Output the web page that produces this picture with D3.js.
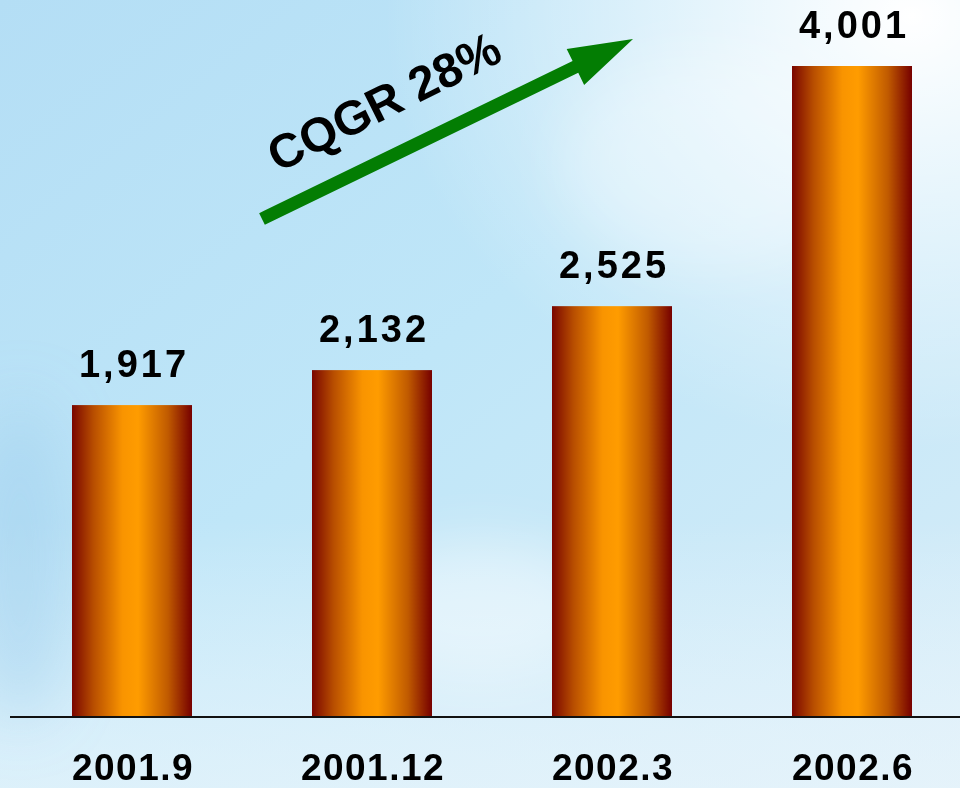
<!DOCTYPE html>
<html lang="en">
<head>
  <meta charset="UTF-8">
  <script src="https://cdn.jsdelivr.net/npm/d3@7"></script>
  <title>CQGR</title>
  <style>
    html, body { margin: 0; padding: 0; overflow: hidden; }
    svg { display: block; }
  </style>
</head>
<body>
  <svg width="960" height="788"></svg>
  <script>
    // data
    var categories = ["2001.9", "2001.12", "2002.3", "2002.6"];
    var values = [1917, 2132, 2525, 4001];
    var growthLabel = "CQGR 28%";

    var svg = d3.select("svg");
    var width = +svg.attr("width");
    var height = +svg.attr("height");
    var baseY = 717;

    var defs = svg.append("defs");

    // sky background
    var sky = defs.append("linearGradient").attr("id", "sky")
      .attr("x1", 0).attr("y1", 0).attr("x2", 1).attr("y2", 1);
    sky.append("stop").attr("offset", "0%").attr("stop-color", "#b4def5");
    sky.append("stop").attr("offset", "45%").attr("stop-color", "#bfe6f8");
    sky.append("stop").attr("offset", "100%").attr("stop-color", "#d6ecf8");

    var glow = defs.append("radialGradient").attr("id", "glow")
      .attr("cx", 0.95).attr("cy", 0.02).attr("r", 0.55);
    glow.append("stop").attr("offset", "0%").attr("stop-color", "#ffffff").attr("stop-opacity", 1);
    glow.append("stop").attr("offset", "100%").attr("stop-color", "#ffffff").attr("stop-opacity", 0);

    var lowClouds = defs.append("linearGradient").attr("id", "low")
      .attr("x1", 0).attr("y1", 0).attr("x2", 0).attr("y2", 1);
    lowClouds.append("stop").attr("offset", "0%").attr("stop-color", "#ffffff").attr("stop-opacity", 0);
    lowClouds.append("stop").attr("offset", "100%").attr("stop-color", "#eef7fc").attr("stop-opacity", 0.6);

    var blur = defs.append("filter").attr("id", "blur")
      .attr("x", "-50%").attr("y", "-50%").attr("width", "200%").attr("height", "200%");
    blur.append("feGaussianBlur").attr("stdDeviation", 30);

    svg.append("rect").attr("width", width).attr("height", height).attr("fill", "url(#sky)");
    svg.append("rect").attr("width", width).attr("height", height).attr("fill", "url(#glow)");
    svg.append("rect").attr("y", 520).attr("width", width).attr("height", height - 520).attr("fill", "url(#low)");

    var clouds = svg.append("g").attr("filter", "url(#blur)");
    clouds.append("ellipse").attr("cx", 20).attr("cy", 560).attr("rx", 50).attr("ry", 160)
      .attr("fill", "#9ccdeb").attr("opacity", 0.45);
    clouds.append("ellipse").attr("cx", 480).attr("cy", 610).attr("rx", 120).attr("ry", 70)
      .attr("fill", "#ffffff").attr("opacity", 0.4);
    clouds.append("ellipse").attr("cx", 720).attr("cy", 160).attr("rx", 160).attr("ry", 110)
      .attr("fill", "#ffffff").attr("opacity", 0.3);

    // bar gradient
    var barGrad = defs.append("linearGradient").attr("id", "bar")
      .attr("x1", 0).attr("y1", 0).attr("x2", 1).attr("y2", 0);
    barGrad.append("stop").attr("offset", "0%").attr("stop-color", "#7a0600");
    barGrad.append("stop").attr("offset", "18%").attr("stop-color", "#b84e00");
    barGrad.append("stop").attr("offset", "42%").attr("stop-color", "#f99400");
    barGrad.append("stop").attr("offset", "55%").attr("stop-color", "#ff9c00");
    barGrad.append("stop").attr("offset", "80%").attr("stop-color", "#c05a00");
    barGrad.append("stop").attr("offset", "100%").attr("stop-color", "#760000");

    // scales
    var x = d3.scaleBand()
      .domain(categories)
      .range([12, 972])
      .paddingInner(0.5)
      .paddingOuter(0.25);
    var y = d3.scaleLinear()
      .domain([0, d3.max(values)])
      .range([baseY, 66]);

    var data = categories.map(function(c, i){ return {cat: c, v: values[i]}; });

    // bars
    svg.selectAll(".bar").data(data).enter().append("rect")
      .attr("class", "bar")
      .attr("x", function(d){ return x(d.cat); })
      .attr("y", function(d){ return y(d.v); })
      .attr("width", x.bandwidth())
      .attr("height", function(d){ return baseY - y(d.v); })
      .attr("fill", "url(#bar)");

    // value labels
    svg.selectAll(".val").data(data).enter().append("text")
      .attr("class", "val")
      .attr("x", function(d){ return x(d.cat) + x.bandwidth() / 2 + 2; })
      .attr("y", function(d){ return y(d.v) - 28; })
      .attr("text-anchor", "middle")
      .style("font-family", "Liberation Sans, Arial, sans-serif")
      .style("font-weight", "bold")
      .style("font-size", "38px")
      .style("letter-spacing", "3px")
      .attr("fill", "#000")
      .text(function(d){ return d3.format(",")(d.v); });

    // baseline axis
    svg.append("line")
      .attr("x1", 10).attr("x2", width)
      .attr("y1", baseY).attr("y2", baseY)
      .attr("stroke", "#111").attr("stroke-width", 2);

    // category labels
    svg.selectAll(".cat").data(categories).enter().append("text")
      .attr("class", "cat")
      .attr("x", function(d){ return x(d) + x.bandwidth() / 2 + 1; })
      .attr("y", 780)
      .attr("text-anchor", "middle")
      .style("font-family", "Liberation Sans, Arial, sans-serif")
      .style("font-weight", "bold")
      .style("font-size", "37px")
      .style("letter-spacing", "1.5px")
      .attr("fill", "#000")
      .text(function(d){ return d; });

    // growth arrow
    var x0 = 262, y0 = 219, x1 = 633, y1 = 39;
    var ang = Math.atan2(y1 - y0, x1 - x0);
    var len = Math.hypot(x1 - x0, y1 - y0);
    var arrow = svg.append("g")
      .attr("transform", "translate(" + x0 + "," + y0 + ") rotate(" + (ang * 180 / Math.PI) + ")");
    var headLen = 64, headW = 40, shaftW = 13;
    arrow.append("path")
      .attr("d", "M0," + (-shaftW / 2) + "L" + (len - headLen) + "," + (-shaftW / 2) +
        "L" + (len - headLen) + "," + (-headW / 2) + "L" + len + ",0" +
        "L" + (len - headLen) + "," + (headW / 2) + "L" + (len - headLen) + "," + (shaftW / 2) +
        "L0," + (shaftW / 2) + "Z")
      .attr("fill", "#037d03");

    svg.append("text")
      .attr("transform", "translate(278,173) rotate(-26.5)")
      .style("font-family", "Liberation Sans, Arial, sans-serif")
      .style("font-weight", "bold")
      .style("font-size", "48px")
      .attr("fill", "#000")
      .text(growthLabel);
  </script>
</body>
</html>
